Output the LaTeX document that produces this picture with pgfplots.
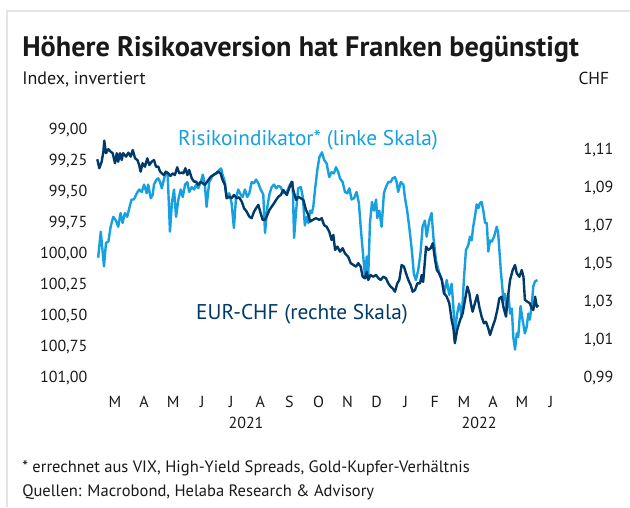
\documentclass[border=0pt]{standalone}
\usepackage{pgfplots}
\pgfplotsset{compat=1.18}
\usepackage{fontspec}
\setmainfont{PT Sans}
\definecolor{lb}{RGB}{22,160,224}
\definecolor{db}{RGB}{0,58,106}
\definecolor{txt}{RGB}{25,25,25}
\definecolor{frame}{RGB}{228,228,228}
\begin{document}
\begin{tikzpicture}
\path[use as bounding box] (0,0) rectangle (472.5pt,-380.25pt);
\draw[frame, line width=1.5pt] (5.3pt,-380.25pt) -- (5.3pt,-8.6pt) -- (472.5pt,-8.6pt);
\node[anchor=base west, inner sep=0pt, text=txt] at (16.5pt,-42.5pt) {\fontsize{21.2}{24}\selectfont\bfseries Höhere Risikoaversion hat Franken begünstigt};
\node[anchor=base west, inner sep=0pt, text=txt] at (16.5pt,-63pt) {\fontsize{13.5}{15}\selectfont Index, invertiert};
\node[anchor=base east, inner sep=0pt, text=txt] at (457pt,-63pt) {\fontsize{13}{15}\selectfont CHF};
\node[anchor=base west, inner sep=0pt, text=txt] at (16.5pt,-354pt) {\fontsize{12.4}{14}\selectfont * errechnet aus VIX, High-Yield Spreads, Gold-Kupfer-Verhältnis};
\node[anchor=base west, inner sep=0pt, text=txt] at (16.5pt,-372.5pt) {\fontsize{12.4}{14}\selectfont Quellen: Macrobond, Helaba Research \& Advisory};
\begin{axis}[
  at={(71pt,-283.5pt)}, anchor=south west, scale only axis,
  width=353.2pt, height=186pt,
  xmin=-0.2, xmax=16, ymin=99, ymax=101, y dir=reverse,
  axis line style={draw=none}, major tick length=0pt,
  clip=false,
  xtick={0.5,1.5,...,15.5},
  xticklabels={M,A,M,J,J,A,S,O,N,D,J,F,M,A,M,J},
  ytick={99,99.25,...,101},
  /pgf/number format/assume math mode=true,
  yticklabel={\pgfmathprintnumber[fixed,fixed zerofill,precision=2,use comma]{\tick}},
  ticklabel style={font=\fontsize{12}{14}\selectfont, text=txt},
  yticklabel style={anchor=east, xshift=-2pt},
  xticklabel style={yshift=-10pt},
]
\addplot[lb, line width=1.8pt, line join=round] coordinates {
(-0.08,100.03)(0.01,99.82)(0.12,100.10)(0.19,99.91)(0.27,99.90)(0.35,99.78)(0.44,99.70)(0.53,99.73)(0.61,99.78)(0.69,99.67)
(0.76,99.75)(0.84,99.67)(0.92,99.70)(0.99,99.63)(1.07,99.56)(1.15,99.56)(1.25,99.51)(1.33,99.48)(1.42,99.50)(1.50,99.44)
(1.59,99.51)(1.64,99.44)(1.73,99.55)(1.80,99.52)(1.84,99.44)(1.93,99.40)(1.99,99.39)(2.05,99.42)(2.11,99.47)(2.18,99.40)
(2.25,99.34)(2.31,99.35)(2.39,99.82)(2.46,99.58)(2.53,99.48)(2.60,99.70)(2.68,99.56)(2.76,99.48)(2.83,99.54)(2.91,99.44)
(2.99,99.42)(3.05,99.50)(3.14,99.46)(3.22,99.48)(3.29,99.44)(3.36,99.47)(3.45,99.42)(3.52,99.36)(3.59,99.44)(3.65,99.62)
(3.74,99.42)(3.83,99.38)(3.90,99.36)(4.00,99.35)(4.09,99.32)(4.15,99.31)(4.20,99.36)(4.28,99.42)(4.34,99.54)(4.43,99.51)
(4.51,99.59)(4.59,99.79)(4.66,99.55)(4.74,99.48)(4.82,99.52)(4.89,99.54)(4.97,99.48)(5.05,99.54)(5.12,99.51)(5.20,99.42)
(5.28,99.43)(5.35,99.40)(5.43,99.43)(5.51,99.48)(5.60,99.52)(5.66,99.83)(5.74,99.62)(5.81,99.52)(5.89,99.46)(5.97,99.44)
(6.04,99.47)(6.12,99.45)(6.20,99.46)(6.29,99.51)(6.41,99.50)(6.52,99.44)(6.61,99.42)(6.66,99.87)(6.73,99.65)(6.80,99.47)
(6.89,99.46)(6.96,99.54)(7.03,99.77)(7.09,99.70)(7.15,99.75)(7.21,99.65)(7.27,99.67)(7.32,99.62)(7.38,99.48)(7.46,99.32)
(7.53,99.22)(7.62,99.18)(7.69,99.24)(7.78,99.27)(7.87,99.38)(7.95,99.34)(8.03,99.35)(8.10,99.30)(8.18,99.34)(8.24,99.39)
(8.33,99.42)(8.41,99.50)(8.49,99.51)(8.56,99.47)(8.64,99.56)(8.72,99.55)(8.81,99.50)(8.89,99.59)(8.95,99.78)(9.02,99.97)
(9.10,100.18)(9.16,100.02)(9.21,100.18)(9.27,99.75)(9.34,99.58)(9.41,99.65)(9.48,99.56)(9.52,99.71)(9.59,99.65)(9.67,99.78)
(9.75,99.51)(9.82,99.46)(9.90,99.42)(9.98,99.42)(10.05,99.39)(10.13,99.38)(10.19,99.42)(10.24,99.50)(10.33,99.42)(10.42,99.44)
(10.47,99.54)(10.55,99.65)(10.62,99.78)(10.71,99.97)(10.78,100.16)(10.85,100.21)(10.93,100.13)(11.01,99.99)(11.08,99.78)(11.16,99.73)
(11.22,99.86)(11.31,99.73)(11.39,99.67)(11.45,99.86)(11.54,100.05)(11.66,100.16)(11.74,100.20)(11.82,100.32)(11.91,100.21)(12.00,100.33)
(12.08,100.24)(12.14,100.43)(12.19,100.64)(12.27,100.48)(12.34,100.40)(12.43,100.51)(12.50,100.21)(12.57,99.97)(12.65,99.93)(12.71,99.86)
(12.77,99.89)(12.82,99.78)(12.88,99.70)(12.94,99.60)(13.00,99.63)(13.05,99.59)(13.11,99.58)(13.17,99.65)(13.23,99.75)(13.29,99.75)
(13.34,99.98)(13.40,99.89)(13.46,99.90)(13.54,99.86)(13.63,99.78)(13.68,99.83)(13.77,100.13)(13.86,100.37)(13.91,100.32)(13.97,100.45)
(14.03,100.32)(14.09,100.48)(14.15,100.44)(14.20,100.67)(14.26,100.77)(14.32,100.64)(14.37,100.67)(14.45,100.42)(14.52,100.53)(14.60,100.64)
(14.66,100.59)(14.72,100.48)(14.77,100.53)(14.83,100.42)(14.89,100.26)(14.95,100.22)(15.03,100.21)
};
\end{axis}
\begin{axis}[
  at={(71pt,-283.5pt)}, anchor=south west, scale only axis,
  width=353.2pt, height=186pt,
  xmin=-0.2, xmax=16, ymin=0.99, ymax=1.1205,
  axis x line=none, axis y line*=right,
  axis line style={draw=none}, major tick length=0pt,
  xtick=\empty,
  ytick={0.99,1.01,...,1.12},
  /pgf/number format/assume math mode=true,
  yticklabel={\pgfmathprintnumber[fixed,fixed zerofill,precision=2,use comma]{\tick}},
  ticklabel style={font=\fontsize{12}{14}\selectfont, text=txt},
  yticklabel style={anchor=west, xshift=10pt},
  clip=false,
]
\addplot[db, line width=1.8pt, line join=round] coordinates {
(-0.11,1.1051)(-0.04,1.1004)(0.04,1.1038)(0.10,1.1091)(0.13,1.1149)(0.19,1.1083)(0.27,1.1104)(0.35,1.1091)(0.42,1.1083)(0.50,1.1030)
(0.56,1.1083)(0.61,1.1038)(0.67,1.1083)(0.73,1.1047)(0.78,1.1083)(0.88,1.1065)(0.96,1.1086)(1.04,1.1065)(1.11,1.1100)(1.19,1.1056)
(1.27,1.1047)(1.33,1.1021)(1.38,1.0986)(1.45,1.1030)(1.53,1.1012)(1.61,1.1056)(1.68,1.1021)(1.76,1.1038)(1.84,1.1047)(1.91,1.1012)
(1.99,1.1012)(2.05,1.0986)(2.11,1.0977)(2.18,1.0968)(2.25,1.0986)(2.33,1.0977)(2.41,1.0963)(2.48,1.0977)(2.56,1.0968)(2.64,1.1009)
(2.71,1.0977)(2.79,1.0981)(2.85,1.0977)(2.92,1.1004)(2.99,1.0968)(3.05,1.0995)(3.14,1.0951)(3.22,1.0933)(3.29,1.0933)(3.36,1.0916)
(3.45,1.0933)(3.52,1.0925)(3.59,1.0916)(3.71,1.0942)(3.79,1.0959)(3.88,1.0968)(3.97,1.0977)(4.05,1.0986)(4.13,1.0977)(4.20,1.0942)
(4.28,1.0916)(4.34,1.0846)(4.43,1.0854)(4.51,1.0846)(4.59,1.0863)(4.69,1.0846)(4.77,1.0851)(4.86,1.0828)(4.94,1.0793)(5.03,1.0775)
(5.12,1.0749)(5.20,1.0741)(5.28,1.0775)(5.35,1.0793)(5.43,1.0811)(5.51,1.0767)(5.58,1.0732)(5.66,1.0732)(5.74,1.0758)(5.81,1.0784)
(5.89,1.0802)(5.97,1.0819)(6.04,1.0837)(6.12,1.0854)(6.20,1.0863)(6.29,1.0889)(6.41,1.0863)(6.49,1.0898)(6.58,1.0933)(6.63,1.0889)
(6.73,1.0837)(6.80,1.0854)(6.89,1.0846)(6.98,1.0837)(7.07,1.0784)(7.15,1.0758)(7.21,1.0723)(7.30,1.0732)(7.41,1.0741)(7.53,1.0732)
(7.61,1.0741)(7.69,1.0705)(7.78,1.0696)(7.87,1.0670)(7.95,1.0626)(8.01,1.0653)(8.07,1.0574)(8.15,1.0591)(8.24,1.0565)(8.33,1.0583)
(8.41,1.0556)(8.52,1.0538)(8.61,1.0504)(8.70,1.0495)(8.79,1.0486)(8.87,1.0504)(8.95,1.0486)(9.02,1.0433)(9.10,1.0425)(9.16,1.0459)
(9.21,1.0416)(9.29,1.0442)(9.38,1.0433)(9.48,1.0442)(9.56,1.0425)(9.64,1.0416)(9.73,1.0433)(9.82,1.0425)(9.90,1.0398)(9.98,1.0381)
(10.05,1.0372)(10.13,1.0354)(10.21,1.0398)(10.28,1.0416)(10.36,1.0495)(10.44,1.0486)(10.51,1.0451)(10.59,1.0416)(10.67,1.0389)(10.74,1.0354)
(10.82,1.0363)(10.90,1.0398)(10.99,1.0398)(11.05,1.0442)(11.10,1.0405)(11.20,1.0591)(11.28,1.0574)(11.36,1.0583)(11.43,1.0609)(11.51,1.0521)
(11.57,1.0468)(11.65,1.0451)(11.74,1.0416)(11.82,1.0346)(11.91,1.0328)(12.00,1.0293)(12.08,1.0205)(12.14,1.0162)(12.19,1.0083)(12.27,1.0153)
(12.37,1.0205)(12.46,1.0241)(12.54,1.0311)(12.62,1.0381)(12.69,1.0346)(12.74,1.0293)(12.80,1.0249)(12.88,1.0293)(12.96,1.0337)(13.03,1.0275)
(13.11,1.0223)(13.19,1.0188)(13.26,1.0196)(13.34,1.0162)(13.40,1.0126)(13.49,1.0170)(13.57,1.0205)(13.65,1.0258)(13.72,1.0319)(13.80,1.0328)
(13.86,1.0275)(13.95,1.0223)(13.99,1.0293)(14.09,1.0416)(14.18,1.0468)(14.26,1.0495)(14.32,1.0451)(14.41,1.0433)(14.49,1.0468)(14.55,1.0433)
(14.60,1.0311)(14.68,1.0302)(14.77,1.0293)(14.83,1.0267)(14.89,1.0258)(14.95,1.0328)(15.01,1.0275)(15.06,1.0284)
};
\end{axis}
\node[text=lb, inner sep=0pt] at (231pt,-105pt) {\fontsize{16}{18}\selectfont Risikoindikator* (linke Skala)};
\node[text=db, inner sep=0pt] at (226.5pt,-236pt) {\fontsize{16}{18}\selectfont EUR-CHF (rechte Skala)};
\node[text=txt, inner sep=0pt] at (184.5pt,-317pt) {\fontsize{12}{14}\selectfont 2021};
\node[text=txt, inner sep=0pt] at (359.3pt,-317pt) {\fontsize{12}{14}\selectfont 2022};
\end{tikzpicture}
\end{document}
